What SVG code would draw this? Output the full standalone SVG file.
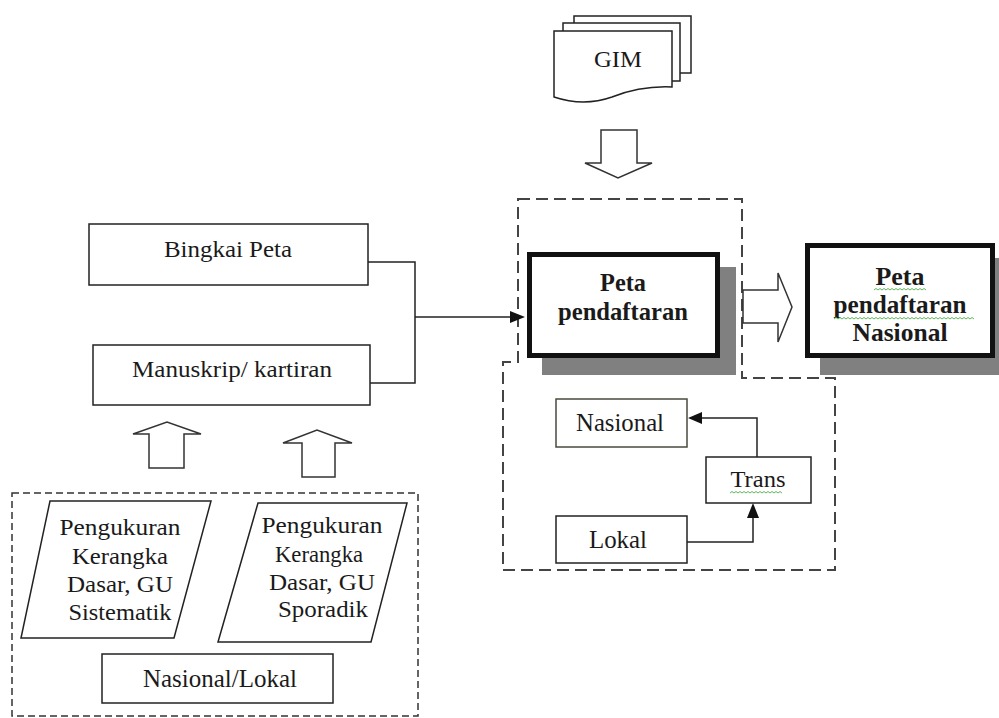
<svg xmlns="http://www.w3.org/2000/svg" width="999" height="718" viewBox="0 0 999 718">
  <style>
    .bg { fill: #ffffff; }
    .box { fill: #ffffff; stroke: #222222; stroke-width: 1.5; }
    .thick { fill: #ffffff; stroke: #111111; stroke-width: 5; }
    .shadow { fill: #808080; }
    .hollow { fill: #ffffff; stroke: #333333; stroke-width: 1.5; stroke-linejoin: miter; }
    .line { fill: none; stroke: #222222; stroke-width: 1.5; }
    .dashL { fill: none; stroke: #333333; stroke-width: 1.5; stroke-dasharray: 7 4; }
    .dashR { fill: none; stroke: #444444; stroke-width: 2; stroke-dasharray: 12 6; }
    .head { fill: #111111; stroke: none; }
    text { font-family: 'Liberation Serif', 'Times New Roman', 'DejaVu Serif', serif; font-size: 24px; fill: #1a1a1a; text-anchor: middle; }
    .b { font-weight: bold; font-size: 25px; }
    .squig { fill: none; stroke: #5cb85c; stroke-width: 1; }
  </style>

  <rect class="bg" x="0" y="0" width="999" height="718"/>

  <!-- group frames -->
  <g id="frames">
    <rect class="dashL" x="12" y="493" width="406" height="223"/>
    <path class="dashR" d="M518,199 H742 V378 H835 V570 H503 V362 H518 Z"/>
  </g>

  <!-- connectors -->
  <g id="connectors">
    <path class="line" d="M368,262 H415 V383 H370"/>
    <path class="line" d="M415,317 H512"/>
    <polygon class="head" points="510,311 525,317 510,323"/>
    <path class="line" d="M687,542 H753 V517"/>
    <polygon class="head" points="747,518 753,503 759,518"/>
    <path class="line" d="M757,457 V418 H702"/>
    <polygon class="head" points="702,412 688,418 702,424"/>
    <!-- block arrows -->
    <polygon class="hollow" points="601,130 637,130 637,163 652,163 618,178 585,163 601,163"/>
    <polygon class="hollow" points="743,290 778,290 778,273 792,307 778,342 778,323 743,323"/>
    <polygon class="hollow" points="149,468 149,434 133,434 167,422 201,434 184,434 184,468"/>
    <polygon class="hollow" points="302,477 302,443 283,443 317,430 352,443 335,443 335,477"/>
  </g>

  <g id="gim">
    <rect class="box" x="574" y="16" width="117" height="57"/>
    <rect class="box" x="563" y="23" width="117" height="58"/>
    <path class="box" d="M554,31 H672 V87 C650,86 630,90 612,97 C595,103 575,104 554,97 Z"/>
    <text x="618" y="67" style="font-size:23px" textLength="48" lengthAdjust="spacingAndGlyphs">GIM</text>
  </g>

  <g id="bingkai-peta">
    <rect class="box" x="89" y="224" width="279" height="61"/>
    <text x="228" y="257" textLength="128" lengthAdjust="spacingAndGlyphs">Bingkai Peta</text>
  </g>

  <g id="manuskrip">
    <rect class="box" x="93" y="345" width="277" height="60"/>
    <text x="232" y="377" textLength="200" lengthAdjust="spacingAndGlyphs">Manuskrip/ kartiran</text>
  </g>

  <g id="peta-pendaftaran">
    <rect class="shadow" x="542" y="267" width="194" height="108"/>
    <rect class="thick" x="529.5" y="254.5" width="188" height="101"/>
    <text class="b" x="623" y="291" textLength="46" lengthAdjust="spacingAndGlyphs">Peta</text>
    <text class="b" x="623" y="320" textLength="130" lengthAdjust="spacingAndGlyphs">pendaftaran</text>
  </g>

  <g id="peta-nasional">
    <rect class="shadow" x="820" y="258" width="190" height="117"/>
    <rect class="thick" x="807.5" y="245.5" width="185" height="110"/>
    <text class="b" x="900" y="285" textLength="49" lengthAdjust="spacingAndGlyphs">Peta</text>
    <text class="b" x="900" y="313" textLength="133" lengthAdjust="spacingAndGlyphs">pendaftaran</text>
    <text class="b" x="900" y="341" textLength="95" lengthAdjust="spacingAndGlyphs">Nasional</text>
    <path class="squig" d="M874,290 l2,-1.5 l2,1.5 l2,-1.5 l2,1.5 l2,-1.5 l2,1.5 l2,-1.5 l2,1.5 l2,-1.5 l2,1.5 l2,-1.5 l2,1.5 l2,-1.5 l2,1.5 l2,-1.5 l2,1.5 l2,-1.5 l2,1.5 l2,-1.5 l2,1.5 l2,-1.5 l2,1.5 l2,-1.5 l2,1.5 l2,-1.5 l2,1.5"/>
    <path class="squig" d="M834,319 l2,-1.5 l2,1.5 l2,-1.5 l2,1.5 l2,-1.5 l2,1.5 l2,-1.5 l2,1.5 l2,-1.5 l2,1.5 l2,-1.5 l2,1.5 l2,-1.5 l2,1.5 l2,-1.5 l2,1.5 l2,-1.5 l2,1.5 l2,-1.5 l2,1.5 l2,-1.5 l2,1.5 l2,-1.5 l2,1.5 l2,-1.5 l2,1.5 l2,-1.5 l2,1.5 l2,-1.5 l2,1.5 l2,-1.5 l2,1.5 l2,-1.5 l2,1.5 l2,-1.5 l2,1.5 l2,-1.5 l2,1.5 l2,-1.5 l2,1.5 l2,-1.5 l2,1.5 l2,-1.5 l2,1.5 l2,-1.5 l2,1.5 l2,-1.5 l2,1.5 l2,-1.5 l2,1.5 l2,-1.5 l2,1.5 l2,-1.5 l2,1.5 l2,-1.5 l2,1.5 l2,-1.5 l2,1.5 l2,-1.5 l2,1.5 l2,-1.5 l2,1.5 l2,-1.5 l2,1.5 l2,-1.5 l2,1.5 l2,-1.5 l2,1.5 l2,-1.5 l2,1.5"/>
  </g>

  <g id="nasional">
    <rect class="box" x="556" y="399" width="131" height="48" style="stroke:#4a4a3c"/>
    <text x="620" y="431" style="font-size:25px" textLength="88" lengthAdjust="spacingAndGlyphs">Nasional</text>
  </g>

  <g id="trans">
    <rect class="box" x="706" y="457" width="105" height="46"/>
    <text x="758" y="487" textLength="55" lengthAdjust="spacingAndGlyphs">Trans</text>
    <path class="squig" d="M730,493 l2,-1.5 l2,1.5 l2,-1.5 l2,1.5 l2,-1.5 l2,1.5 l2,-1.5 l2,1.5 l2,-1.5 l2,1.5 l2,-1.5 l2,1.5 l2,-1.5 l2,1.5 l2,-1.5 l2,1.5 l2,-1.5 l2,1.5 l2,-1.5 l2,1.5 l2,-1.5 l2,1.5 l2,-1.5 l2,1.5 l2,-1.5 l2,1.5"/>
  </g>

  <g id="lokal">
    <rect class="box" x="556" y="516" width="131" height="47"/>
    <text x="618" y="548" style="font-size:25px" textLength="58" lengthAdjust="spacingAndGlyphs">Lokal</text>
  </g>

  <g id="sistematik">
    <polygon class="box" points="50,501 211,501 174,638 21,638"/>
    <text x="120" y="535" textLength="121" lengthAdjust="spacingAndGlyphs">Pengukuran</text>
    <text x="120" y="564" textLength="96" lengthAdjust="spacingAndGlyphs">Kerangka</text>
    <text x="120" y="592" textLength="106" lengthAdjust="spacingAndGlyphs">Dasar, GU</text>
    <text x="120" y="620" textLength="103" lengthAdjust="spacingAndGlyphs">Sistematik</text>
  </g>

  <g id="sporadik">
    <polygon class="box" points="258,503 407,503 371,642 218,642"/>
    <text x="322" y="533" textLength="121" lengthAdjust="spacingAndGlyphs">Pengukuran</text>
    <text x="319" y="562" textLength="88" lengthAdjust="spacingAndGlyphs">Kerangka</text>
    <text x="322" y="590" textLength="106" lengthAdjust="spacingAndGlyphs">Dasar, GU</text>
    <text x="323" y="617" textLength="90" lengthAdjust="spacingAndGlyphs">Sporadik</text>
  </g>

  <g id="nasional-lokal">
    <rect class="box" x="102" y="654" width="231" height="49"/>
    <text x="220" y="687" style="font-size:25px" textLength="154" lengthAdjust="spacingAndGlyphs">Nasional/Lokal</text>
  </g>
</svg>
